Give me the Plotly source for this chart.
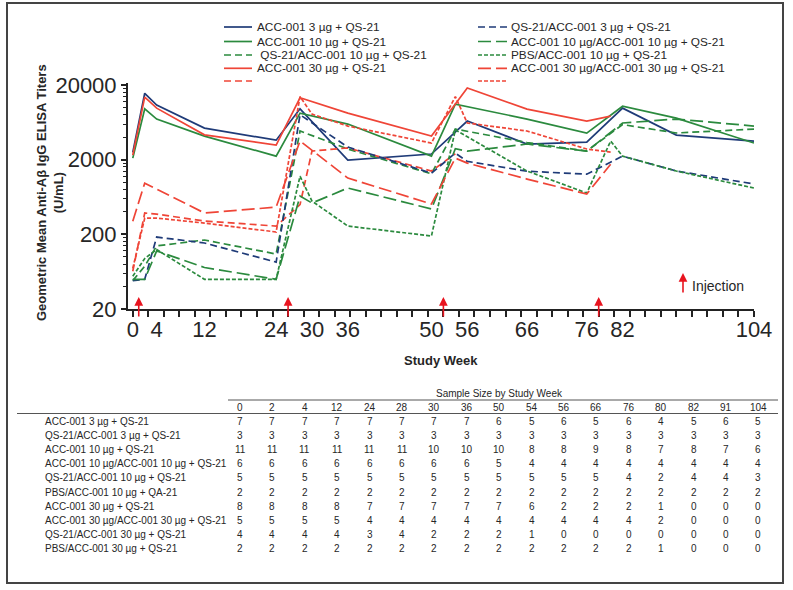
import plotly.graph_objects as go

# ---------------- data ----------------
weeks_acc3 = [0, 2, 4, 12, 24, 28, 36, 50, 56, 66, 76, 82, 91, 104]
titer_acc3 = [2500, 15500, 10800, 5300, 3650, 9600, 1980, 2380, 6580, 3240, 3440, 9800, 4270, 3550]

weeks_qs_acc3 = [0, 2, 4, 12, 24, 28, 36, 50, 54, 56, 66, 76, 82, 91, 104]
titer_qs_acc3 = [48, 50, 184, 153, 85, 8000, 2950, 1320, 2450, 1900, 1400, 1280, 2230, 1410, 944]

weeks_acc10 = [0, 2, 4, 12, 24, 28, 36, 50, 54, 66, 76, 82, 91, 104]
titer_acc10 = [2100, 9600, 7000, 4140, 2230, 8400, 6000, 2230, 11100, 7000, 4540, 10400, 7200, 3340]

weeks_acc10_acc10 = [0, 2, 4, 12, 24, 28, 30, 36, 50, 54, 56, 66, 76, 82, 91, 104]
titer_acc10_acc10 = [50, 50, 120, 72, 50, 650, 525, 834, 437, 2800, 2600, 3240, 2600, 6200, 7000, 5640]

weeks_qs_acc10 = [0, 2, 4, 12, 24, 28, 36, 50, 54, 66, 76, 82, 91, 104]
titer_qs_acc10 = [48, 75, 140, 168, 109, 4840, 2780, 1290, 5140, 3400, 2610, 5900, 4550, 5140]

weeks_pbs_acc10 = [0, 2, 4, 12, 24, 28, 30, 36, 50, 54, 66, 76, 80, 82, 91, 104]
titer_pbs_acc10 = [55, 95, 125, 50, 50, 1200, 558, 258, 190, 5000, 1410, 715, 3550, 2230, 1410, 834]

weeks_acc30 = [0, 2, 4, 12, 24, 28, 36, 50, 56, 66, 76, 80]
titer_acc30 = [2300, 13800, 9800, 4300, 3140, 13500, 8400, 4140, 18200, 9500, 6570, 7670]

weeks_acc30_acc30 = [0, 2, 4, 12, 24, 28, 36, 50, 54, 56, 66, 76, 80]
titer_acc30_acc30 = [300, 970, 808, 386, 463, 3560, 1135, 510, 2100, 1800, 1100, 694, 1740]

weeks_qs_acc30 = [0, 2, 4, 12, 24, 28, 30, 36, 50, 54]
titer_qs_acc30 = [64, 386, 373, 301, 258, 500, 2610, 2870, 1410, 2400]

weeks_pbs_acc30 = [0, 2, 4, 12, 24, 28, 30, 36, 50, 54, 56, 66, 76, 80]
titer_pbs_acc30 = [70, 330, 330, 283, 215, 14000, 8150, 5640, 3340, 14000, 6200, 4840, 2780, 2520]

injection_weeks = [1, 26, 52, 78]
x_tick_weeks = [0, 4, 12, 24, 30, 36, 50, 56, 66, 76, 82, 104]
y_tick_vals = [20, 200, 2000, 20000]

# sample size table
table_weeks = [0, 2, 4, 12, 24, 28, 30, 36, 50, 54, 56, 66, 76, 80, 82, 91, 104]
table_groups = [
    "ACC-001 3 µg + QS-21",
    "QS-21/ACC-001 3 µg + QS-21",
    "ACC-001 10 µg + QS-21",
    "ACC-001 10 µg/ACC-001 10 µg + QS-21",
    "QS-21/ACC-001 10 µg + QS-21",
    "PBS/ACC-001 10 µg + QA-21",
    "ACC-001 30 µg + QS-21",
    "ACC-001 30 µg/ACC-001 30 µg + QS-21",
    "QS-21/ACC-001 30 µg + QS-21",
    "PBS/ACC-001 30 µg + QS-21",
]
n_acc3 = [7, 7, 7, 7, 7, 7, 7, 7, 6, 5, 6, 5, 6, 4, 5, 6, 5]
n_qs_acc3 = [3, 3, 3, 3, 3, 3, 3, 3, 3, 3, 3, 3, 3, 3, 3, 3, 3]
n_acc10 = [11, 11, 11, 11, 11, 11, 10, 10, 10, 8, 8, 9, 8, 7, 8, 7, 6]
n_acc10_acc10 = [6, 6, 6, 6, 6, 6, 6, 6, 5, 4, 4, 4, 4, 4, 4, 4, 4]
n_qs_acc10 = [5, 5, 5, 5, 5, 5, 5, 5, 5, 5, 5, 5, 4, 2, 4, 4, 3]
n_pbs_acc10 = [2, 2, 2, 2, 2, 2, 2, 2, 2, 2, 2, 2, 2, 2, 2, 2, 2]
n_acc30 = [8, 8, 8, 8, 7, 7, 7, 7, 7, 6, 2, 2, 2, 1, 0, 0, 0]
n_acc30_acc30 = [5, 5, 5, 5, 4, 4, 4, 4, 4, 4, 4, 4, 4, 2, 0, 0, 0]
n_qs_acc30 = [4, 4, 4, 4, 3, 4, 2, 2, 2, 1, 0, 0, 0, 0, 0, 0, 0]
n_pbs_acc30 = [2, 2, 2, 2, 2, 2, 2, 2, 2, 2, 2, 2, 2, 1, 0, 0, 0]
table_counts = [n_acc3, n_qs_acc3, n_acc10, n_acc10_acc10, n_qs_acc10,
                n_pbs_acc10, n_acc30, n_acc30_acc30, n_qs_acc30, n_pbs_acc30]

NAVY = "#1f3b78"
GREEN = "#2b8a3e"
RED = "#ef4537"
ARROW = "#e8141f"
TXT = "#262626"
FONT = "Liberation Sans, Arial, sans-serif"

SOLID = "solid"
MED = "7px,4px"
LONG = "13px,5px"
SHORT = "4px,2px"

# (legend text, weeks, titers, colour, dash, legend column, legend row)
series = [
    ("ACC-001 3 µg + QS-21", weeks_acc3, titer_acc3, NAVY, SOLID, 0, 0),
    ("ACC-001 10 µg + QS-21", weeks_acc10, titer_acc10, GREEN, SOLID, 0, 1),
    (" QS-21/ACC-001 10 µg + QS-21", weeks_qs_acc10, titer_qs_acc10, GREEN, MED, 0, 2),
    ("ACC-001 30 µg + QS-21", weeks_acc30, titer_acc30, RED, SOLID, 0, 3),
    ("", weeks_qs_acc30, titer_qs_acc30, RED, MED, 0, 4),
    ("QS-21/ACC-001 3 µg + QS-21", weeks_qs_acc3, titer_qs_acc3, NAVY, MED, 1, 0),
    ("ACC-001 10 µg/ACC-001 10 µg + QS-21", weeks_acc10_acc10, titer_acc10_acc10, GREEN, LONG, 1, 1),
    ("PBS/ACC-001 10 µg + QS-21", weeks_pbs_acc10, titer_pbs_acc10, GREEN, SHORT, 1, 2),
    ("ACC-001 30 µg/ACC-001 30 µg + QS-21", weeks_acc30_acc30, titer_acc30_acc30, RED, LONG, 1, 3),
    ("", weeks_pbs_acc30, titer_pbs_acc30, RED, SHORT, 1, 4),
]

# plot box in pixels
W, H = 793, 590
L, R, T, B = 128, 754, 83, 309


def px(x):
    return (x - L) / (R - L)


def py(y):
    return (B - y) / (B - T)


def label(x, y, text, size, xanchor="center", **kw):
    # free text placed by pixel position, centred vertically on y
    return dict(xref="paper", yref="paper", x=px(x), y=py(y), text=text,
                showarrow=False, xanchor=xanchor, yanchor="middle",
                font=dict(size=size, color=TXT), **kw)


fig = go.Figure()
for name, wk, ti, col, dash, _, _ in series:
    fig.add_trace(go.Scatter(
        x=wk, y=ti, mode="lines", name=name or "group", showlegend=False,
        line=dict(color=col, width=1.7, dash=dash),
        hoverinfo="skip",
    ))

shapes = []
annotations = []

# legend drawn by hand in two columns
leg_x = [(224, 252, 255), (478, 507, 509)]
leg_y = [27, 41.5, 55, 68.3, 81]
for name, wk, ti, col, dash, c, r in series:
    x0, x1, xt = leg_x[c]
    y = leg_y[r]
    shapes.append(dict(type="line", xref="paper", yref="paper",
                       x0=px(x0), x1=px(x1), y0=py(y), y1=py(y),
                       line=dict(color=col, width=1.7, dash=dash)))
    if name:
        annotations.append(label(xt, y, name, 11.8, xanchor="left"))

# injection arrows
for wk in injection_weeks:
    annotations.append(dict(xref="x", yref="paper", x=wk, y=py(297), text="",
                            showarrow=True, axref="pixel", ayref="pixel", ax=0, ay=21,
                            arrowhead=2, arrowsize=1.1, arrowwidth=1.6, arrowcolor=ARROW))
annotations.append(dict(xref="paper", yref="paper", x=px(683), y=py(273), text="",
                        showarrow=True, axref="pixel", ayref="pixel", ax=0, ay=21,
                        arrowhead=2, arrowsize=1.1, arrowwidth=1.6, arrowcolor=ARROW))
annotations.append(label(690, 286, "Injection", 14, xanchor="left"))

# axis titles
annotations.append(label(50, 193, "<b>Geometric Mean Anti-Aβ IgG ELISA Titers<br>(U/mL)</b>",
                         13, textangle=-90))
annotations.append(label(441, 360, "<b>Study Week</b>", 13))

# sample size table
TFS = 10
col_x = [240 + 32.4 * i for i in range(len(table_weeks))]
row0, row_step = 421.5, 14.1
annotations.append(label(500, 393, "Sample Size by Study Week", TFS))
shapes.append(dict(type="line", xref="paper", yref="paper", x0=px(228), x1=px(778),
                   y0=py(400), y1=py(400), line=dict(color="#555", width=1)))
shapes.append(dict(type="line", xref="paper", yref="paper", x0=px(17), x1=px(778),
                   y0=py(413.5), y1=py(413.5), line=dict(color="#555", width=1)))
for wk, cx in zip(table_weeks, col_x):
    annotations.append(label(cx, 407, str(wk), TFS))
for i, (grp, counts) in enumerate(zip(table_groups, table_counts)):
    ry = row0 + row_step * i
    annotations.append(label(43, ry, grp, TFS, xanchor="left"))
    for n, cx in zip(counts, col_x):
        annotations.append(label(cx, ry, str(n), TFS))

# outer frame
shapes.append(dict(type="rect", xref="paper", yref="paper", x0=px(7), x1=px(783),
                   y0=py(583), y1=py(3), line=dict(color="#444", width=2)))

minor_x = [2.6 * i for i in range(41)]
minor_y = [k * 2 * 10 ** e for e in range(1, 4) for k in range(1, 11)]

fig.update_layout(
    width=W, height=H,
    margin=dict(l=L, r=W - R, t=T, b=H - B, pad=0),
    paper_bgcolor="white", plot_bgcolor="white",
    font=dict(family=FONT, color=TXT),
    showlegend=False,
    shapes=shapes,
    annotations=annotations,
    xaxis=dict(
        range=[-0.8, 104], tickvals=x_tick_weeks, ticks="",
        tickfont=dict(size=22, color=TXT), showgrid=False, zeroline=False,
        showline=True, linecolor="#222", linewidth=2,
        minor=dict(tickvals=minor_x, ticks="outside", ticklen=6, tickcolor="#222", tickwidth=1.5),
    ),
    yaxis=dict(
        type="log", range=[1.30103, 4.328], tickvals=y_tick_vals,
        ticktext=[str(v) for v in y_tick_vals], ticks="outside", ticklen=5,
        tickwidth=1.5, tickcolor="#222",
        tickfont=dict(size=22, color=TXT), showgrid=False, zeroline=False,
        showline=True, linecolor="#222", linewidth=2,
        minor=dict(tickvals=minor_y, ticks="outside", ticklen=3, tickcolor="#222", tickwidth=1),
    ),
)

# page body has a default 8px margin; drop it so the figure sits at the window origin
fig.write_html("out.html", config={"displayModeBar": False},
               post_script="document.body.style.margin='0px';")
